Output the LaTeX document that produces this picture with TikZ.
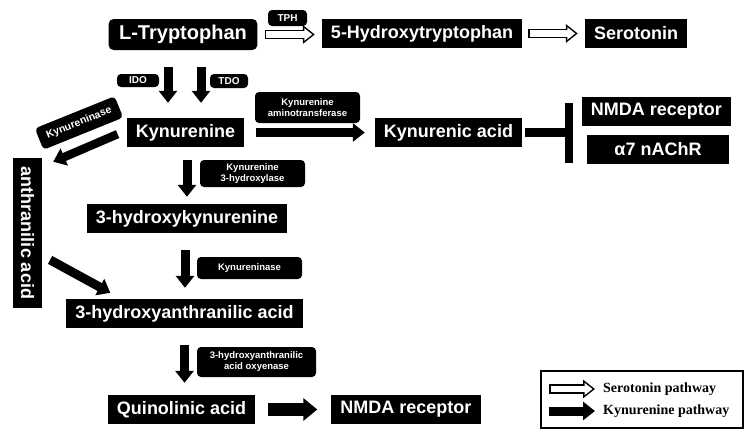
\documentclass[tikz,border=0pt]{standalone}
\usepackage{fontspec}
\setmainfont{Liberation Serif}
\setsansfont{Liberation Sans}
\usetikzlibrary{arrows.meta}

\begin{document}
\begin{tikzpicture}[x=1pt,y=-1pt]
    \tikzstyle{mol}=[fill=black,text=white,font=\sffamily\bfseries\fontsize{18}{20}\selectfont,inner xsep=9pt,inner ysep=0pt,minimum height=29pt]
    \tikzstyle{enzyme}=[fill=black,text=white,rounded corners=4pt,font=\sffamily\bfseries\fontsize{9.5}{11}\selectfont,align=center,inner sep=0pt]
    \tikzstyle{kynpath}=[line width=9pt,-{Triangle[width=18pt,length=12pt]}]
    \tikzstyle{bigkyn}=[line width=13pt,-{Triangle[width=22pt,length=14pt]}]
    \tikzstyle{serout}=[line width=9.5pt,-{Triangle[width=18pt,length=12pt]}]
    \tikzstyle{serin}=[white,line width=6.5pt,-{Triangle[width=12pt,length=8pt]}]
    \tikzstyle{legend}=[font=\rmfamily\bfseries\fontsize{14}{16}\selectfont,anchor=west,inner sep=0pt]

    \useasboundingbox (0,0) rectangle (755,439);

    \node[mol,rounded corners=5pt,inner xsep=10.5pt,minimum height=31pt,font=\sffamily\bfseries\fontsize{20}{22}\selectfont] at (183,34.5) (tryp) {L-Tryptophan};
    \node[mol] at (422,33.5) (htp) {5-Hydroxytryptophan};
    \node[mol] at (636,33.5) (sero) {Serotonin};
    \node[mol] at (185.5,132.5) (kyn) {Kynurenine};
    \node[mol] at (448.5,132.5) (kyna) {Kynurenic acid};
    \node[mol] at (656.5,111.5) (nmdaa) {NMDA receptor};
    \node[mol,minimum width=142pt] at (658,149) (nachr) {α7 nAChR};
    \node[mol,rotate=-90] at (27.5,233) (anth) {anthranilic acid};
    \node[mol] at (187,218.5) (hk) {3-hydroxykynurenine};
    \node[mol] at (184.5,313.5) (haa) {3-hydroxyanthranilic acid};
    \node[mol] at (181.5,409.5) (quin) {Quinolinic acid};
    \node[mol] at (406,409.5) (nmdab) {NMDA receptor};
    \coordinate (block) at (573,132);

    \node[enzyme,minimum width=39pt,minimum height=16pt,font=\sffamily\bfseries\fontsize{10}{11}\selectfont] at (287.5,18) (tph) {TPH};
    \node[enzyme,minimum width=42pt,minimum height=13pt,font=\sffamily\bfseries\fontsize{10}{11}\selectfont] at (138,80.5) (ido) {IDO};
    \node[enzyme,minimum width=38pt,minimum height=14pt,font=\sffamily\bfseries\fontsize{10}{11}\selectfont] at (229,81) (tdo) {TDO};
    \node[enzyme,minimum width=105pt,minimum height=31pt] at (307.5,107.5) (kat) {Kynurenine\\aminotransferase};
    \node[enzyme,minimum width=105pt,minimum height=27pt] at (252.5,173.5) (kmo) {Kynurenine\\3-hydroxylase};
    \node[enzyme,minimum width=86pt,minimum height=23pt,rotate=22,font=\sffamily\bfseries\fontsize{10.5}{12}\selectfont] at (79,123) (kynu) {Kynureninase};
    \node[enzyme,minimum width=105pt,minimum height=22pt] at (249.5,268) (kynub) {Kynureninase};
    \node[enzyme,minimum width=119pt,minimum height=30pt] at (256.5,362) (haao) {3-hydroxyanthranilic\\acid oxyenase};

    \draw[serout,shorten <=7pt,shorten >=7pt] (tryp.east) -- (tryp.east -| htp.west);
    \draw[serin,shorten <=8.5pt,shorten >=9.5pt] (tryp.east) -- (tryp.east -| htp.west);
    \draw[serout,shorten <=6pt,shorten >=7pt] (htp.east) -- (sero.west);
    \draw[serin,shorten <=7.5pt,shorten >=9.5pt] (htp.east) -- (sero.west);

    \draw[kynpath,shorten <=17pt,shorten >=15pt] ([xshift=-15pt]tryp.south) -- ([xshift=-15pt]tryp.south |- kyn.north);
    \draw[kynpath,shorten <=17pt,shorten >=15pt] ([xshift=18pt]tryp.south) -- ([xshift=18pt]tryp.south |- kyn.north);
    \draw[kynpath,shorten <=12pt,shorten >=10pt] (kyn.east) -- (kyn.east -| kyna.west);
    \draw[line width=9pt,-{Bar[width=60pt,line width=8pt]},shorten <=3pt] (kyna.east) -- (kyna.east -| block);
    \draw[kynpath,line width=8.5pt,shorten <=10pt,shorten >=12pt] ([yshift=2.3pt]kyn.west) -- ([yshift=-8.7pt]anth.north west);
    \draw[kynpath,shorten <=9pt,shorten >=12.5pt] ([yshift=-22.6pt]anth.north) -- ([xshift=55pt]haa.north west);
    \draw[kynpath,shorten <=13pt,shorten >=7pt] ([xshift=1.5pt]kyn.south) -- ([xshift=1.5pt]kyn.south |- hk.north);
    \draw[kynpath,shorten <=17pt,shorten >=11pt] ([xshift=-2pt]hk.south) -- ([xshift=-2pt]hk.south |- haa.north);
    \draw[kynpath,shorten <=17pt,shorten >=12pt] (haa.south) -- (haa.south |- quin.north);
    \draw[bigkyn,shorten <=13pt,shorten >=14pt] (quin.east) -- (nmdab.west);

    \node[draw,line width=1.2pt,minimum width=202pt,minimum height=57pt] at (642,399.5) (legendbox) {};
    \node[legend] at (603,389) (legser) {Serotonin pathway};
    \node[legend] at (603,411) (legkyn) {Kynurenine pathway};
    \draw[serout,shorten >=8pt] ([xshift=-54pt]legser.west) -- (legser.west);
    \draw[serin,shorten <=1.5pt,shorten >=10.5pt] ([xshift=-54pt]legser.west) -- (legser.west);
    \draw[kynpath,shorten >=8pt] ([xshift=-54pt]legkyn.west) -- (legkyn.west);
\end{tikzpicture}
\end{document}
